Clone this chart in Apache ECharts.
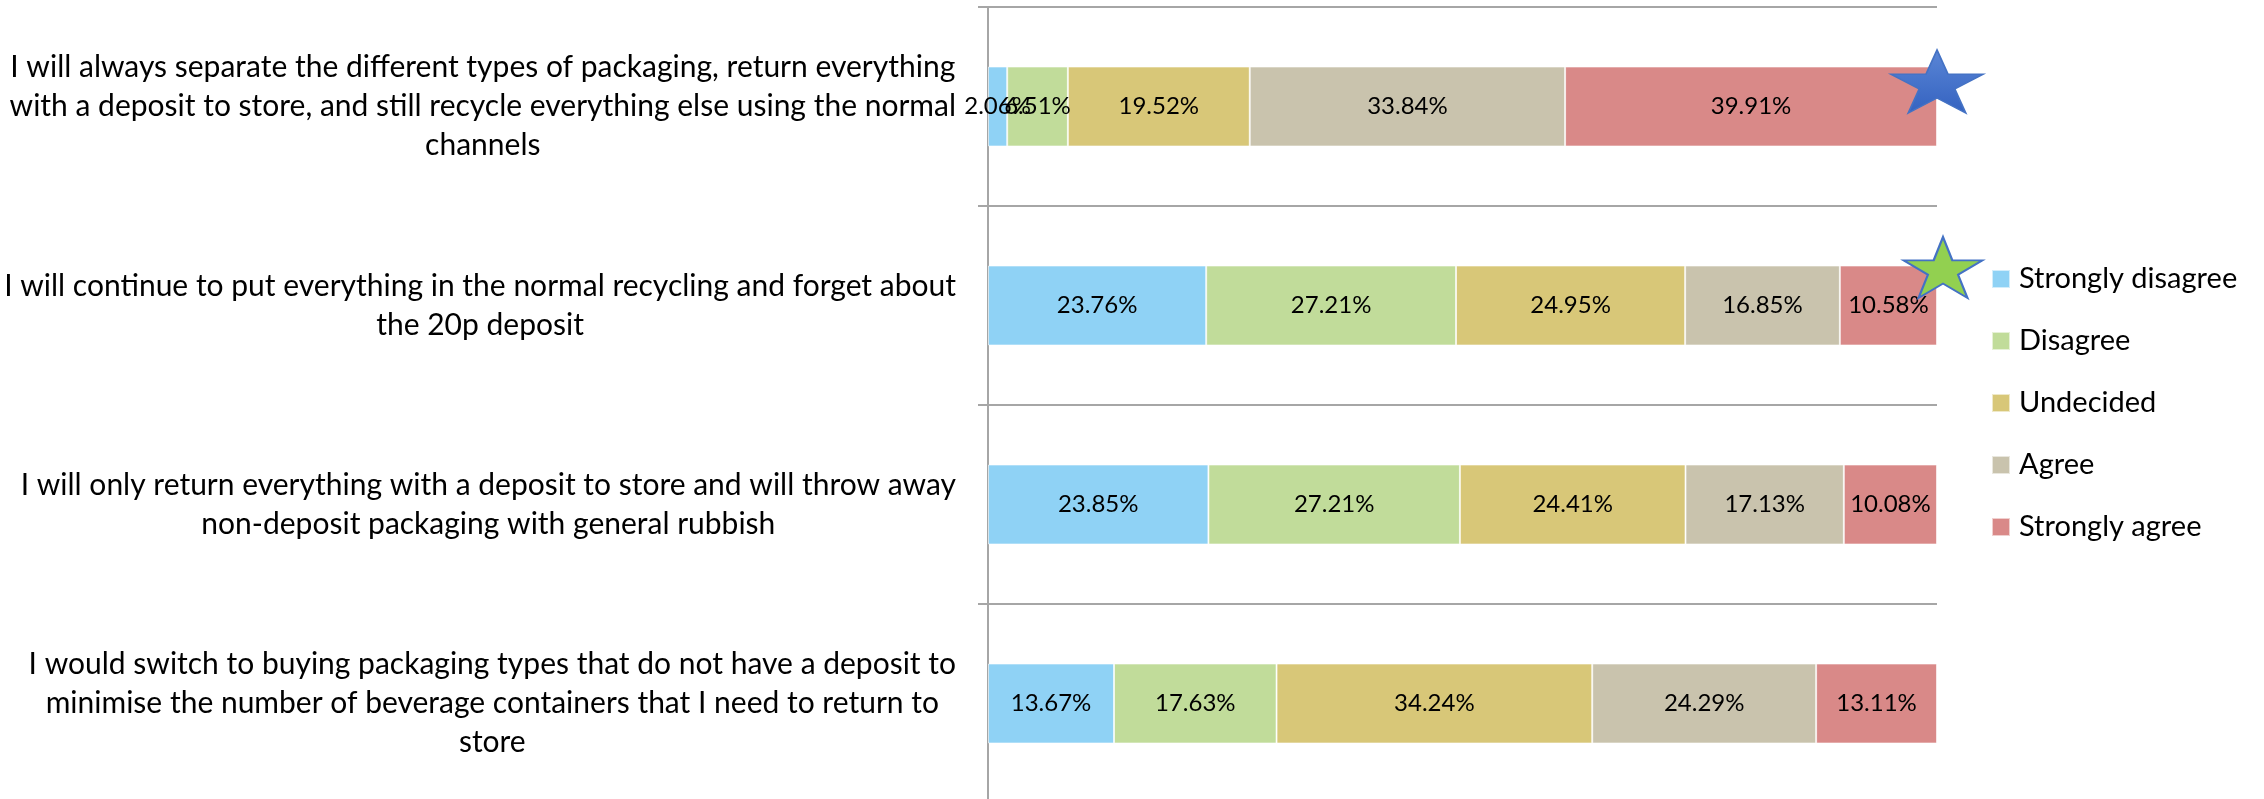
<!DOCTYPE html>
<html>
<head>
<meta charset="utf-8">
<script src="https://cdn.jsdelivr.net/npm/echarts@6.0.0/dist/echarts.min.js"></script>
<style>
  html, body { margin: 0; padding: 0; background: #fff; }
  #chart { width: 2264px; height: 799px; }
</style>
</head>
<body>
<div id="chart"></div>
<script>
// statements (top to bottom)
var statements = [
	'I will always separate the different types of packaging, return everything\nwith a deposit to store, and still recycle everything else using the normal\nchannels',
	'I will continue to put everything in the normal recycling and forget about\nthe 20p deposit',
	'I will only return everything with a deposit to store and will throw away\nnon-deposit packaging with general rubbish',
	'I would switch to buying packaging types that do not have a deposit to\nminimise the number of beverage containers that I need to return to\nstore'
];
var answers = ['Strongly disagree', 'Disagree', 'Undecided', 'Agree', 'Strongly agree'];

// percentages per answer, one value per statement
var stronglyDisagree = [2.06, 23.76, 23.85, 13.67];
var disagree = [6.51, 27.21, 27.21, 17.63];
var undecided = [19.52, 24.95, 24.41, 34.24];
var agree = [33.84, 16.85, 17.13, 24.29];
var stronglyAgree = [39.91, 10.58, 10.08, 13.11];

var colors = ['#8fd2f5', '#c1dc9a', '#d8c778', '#c9c3ad', '#d98988'];
var fontName = 'Lato';

var dom = document.getElementById('chart');
var myChart = echarts.init(dom);

var rows = [stronglyDisagree, disagree, undecided, agree, stronglyAgree];
// 100% stacked: each statement is scaled to a full bar
var totals = statements.map(function (s, i) {
	var t = 0;
	rows.forEach(function (r) { t += r[i]; });
	return t;
});

var starPath = 'path://M0,-100L22.45,-30.9L95.1,-30.9L36.3,11.8L58.8,80.9L0,38.2L-58.8,80.9L-36.3,11.8L-95.1,-30.9L-22.45,-30.9Z';

var series = rows.map(function (r, k) {
	var s = {
		name: answers[k],
		type: 'bar',
		stack: 'total',
		barWidth: 80,
		itemStyle: {
			color: colors[k],
			borderColor: 'rgba(255,255,255,0.6)',
			borderWidth: 1
		},
		label: {
			show: true,
			position: 'inside',
			color: '#000',
			fontFamily: fontName,
			fontSize: 24,
			formatter: function (p) {
				return r[p.dataIndex].toFixed(2) + '%';
			}
		},
		emphasis: { disabled: true },
		data: r.map(function (v, i) { return v / totals[i] * 100; })
	};
	if (k === rows.length - 1) {
		// the two star call-outs
		s.markPoint = {
			symbol: starPath,
			label: { show: false },
			z: 10,
			data: [
				{
					coord: [100, 0],
					symbolSize: [93, 63],
					symbolOffset: [0, -25],
					itemStyle: {
						color: new echarts.graphic.LinearGradient(0, 0, 0, 1, [
							{ offset: 0, color: '#5a86d6' },
							{ offset: 1, color: '#3462c0' }
						]),
						borderColor: '#4472c4',
						borderWidth: 1.5
					}
				},
				{
					coord: [100, 1],
					symbolSize: [79, 61],
					symbolOffset: [6, -38],
					itemStyle: {
						color: '#92d050',
						borderColor: '#4472c4',
						borderWidth: 2
					}
				}
			]
		};
	}
	return s;
});

var option = {
	animation: false,
	color: colors,
	legend: {
		orient: 'vertical',
		left: 1986,
		top: 259,
		icon: 'rect',
		itemWidth: 18,
		itemHeight: 18,
		itemGap: 32,
		textStyle: {
			color: '#000',
			fontFamily: fontName,
			fontSize: 29,
			lineHeight: 30,
			padding: [0, 0, 0, 4]
		},
		data: answers
	},
	grid: {
		left: 988,
		right: 327,
		top: 7,
		bottom: -4,
		outerBoundsMode: 'none',
		containLabel: false
	},
	xAxis: {
		type: 'value',
		min: 0,
		max: 100,
		show: false
	},
	yAxis: {
		type: 'category',
		inverse: true,
		data: statements,
		axisLine: { show: true, lineStyle: { color: '#a6a6a6', width: 2 } },
		axisTick: { show: true, length: 10, lineStyle: { color: '#a6a6a6', width: 2 } },
		splitLine: { show: true, lineStyle: { color: '#a6a6a6', width: 2 } },
		axisLabel: {
			margin: 32,
			color: '#000',
			fontFamily: fontName,
			fontSize: 30,
			formatter: function (v) {
				return v.split('\n').map(function (l) { return '{c|' + l + '}'; }).join('\n');
			},
			rich: {
				c: { align: 'center', fontFamily: fontName, fontSize: 30, lineHeight: 39, color: '#000' }
			}
		}
	},
	series: series
};

myChart.setOption(option);
</script>
</body>
</html>
